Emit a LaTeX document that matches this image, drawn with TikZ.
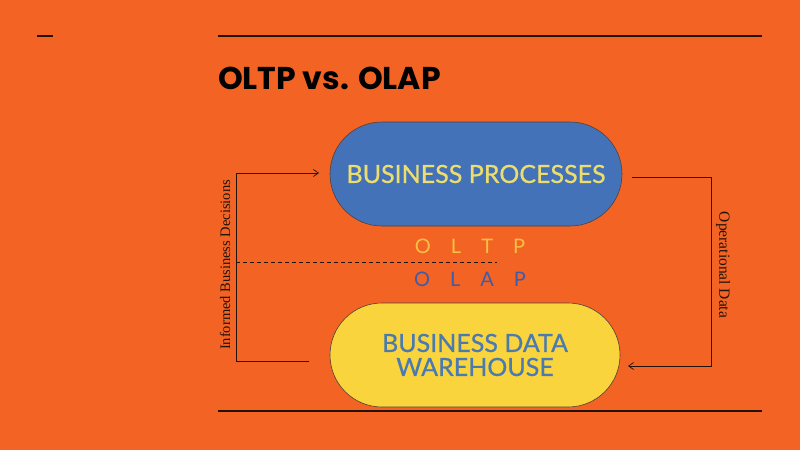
\documentclass[tikz,border=0pt]{standalone}
\usepackage{fontspec}
\setmainfont{Liberation Serif}
\newfontfamily\titlefont{Poppins}
\newfontfamily\boxfont{Lato}
\newfontfamily\boxmedium{Lato}[FakeBold=0.7]
\usetikzlibrary{arrows.meta, positioning, calc}

\definecolor{slidebg}{RGB}{242,99,36}
\definecolor{procblue}{RGB}{68,114,184}
\definecolor{whyellow}{RGB}{250,212,60}
\definecolor{proctext}{RGB}{236,222,110}
\definecolor{whtext}{RGB}{74,122,176}
\definecolor{oltpcol}{RGB}{246,192,66}
\definecolor{olapcol}{RGB}{62,92,170}
\definecolor{rulecol}{RGB}{35,18,10}

\begin{document}
\begin{tikzpicture}[
    x=1pt, y=-1pt,
    stadium/.style={draw=rulecol!80, line width=0.6pt, rounded corners=52pt,
                    minimum width=292pt, minimum height=104pt, align=center,
                    font=\boxmedium\fontsize{25}{28}\selectfont},
    rulebar/.style={draw=rulecol, line width=2.6pt},
    conn/.style={draw=rulecol, line width=0.7pt},
    arr/.style={conn, -{Straight Barb[length=5pt, width=7pt]}},
    side/.style={text=rulecol},
    layer/.style={font=\boxfont\fontsize{20}{22}\selectfont},
]

    %==================== BACKGROUND ====================
    \fill[slidebg] (0,0) rectangle (800,450);
    \useasboundingbox (0,0) rectangle (800,450);

    %==================== TITLE ====================
    \coordinate (dashL) at (37,36);
    \coordinate (dashR) at (53,36);
    \draw[rulebar, line width=2pt] (dashL) -- (dashR);
    \coordinate (topL) at (218,36);
    \coordinate (topR) at (762,36);
    \draw[rulebar] (topL) -- (topR);
    \node[anchor=base west, inner sep=0pt, font=\titlefont\bfseries\fontsize{31.5}{33}\selectfont,
          text=black] (title) at (218,89) {OLTP vs. OLAP};

    %==================== BOXES ====================
    \node[stadium, fill=procblue, text=proctext] (proc) at (476,174) {BUSINESS PROCESSES};
    \node[stadium, fill=whyellow, text=whtext, minimum width=290pt] (dwh) at (475,355)
        {BUSINESS DATA\\[-4pt]WAREHOUSE};

    %==================== OLTP / OLAP split ====================
    \node[layer, text=oltpcol] (oltp) at (470,246) {O\hspace{20pt}L\hspace{20pt}T\hspace{20pt}P};
    \node[layer, text=olapcol] (olap) at (470,279) {O\hspace{20pt}L\hspace{20pt}A\hspace{20pt}P};
    \coordinate (splitL) at (236,262);
    \coordinate (splitR) at (497,262);
    \draw[conn, dashed, dash pattern=on 4pt off 3pt] (splitL) -- (splitR);

    %==================== LOOP ====================
    % left: warehouse back up to processes
    \coordinate (lowL) at (309,361);
    \coordinate (upL) at (319,173);
    \draw[arr] (lowL) -- (236,361) |- (upL);
    \node[side, rotate=90, font=\fontsize{14.5}{16}\selectfont] (decis) at (225,265)
        {Informed Business Decisions};

    % right: processes down to warehouse
    \coordinate (upR) at (632,177);
    \coordinate (lowR) at (628,366);
    \draw[arr] (upR) -- (711,177) |- (lowR);
    \node[side, rotate=-90, font=\fontsize{15.5}{17}\selectfont] (opdata) at (723,265)
        {Operational Data};

    %==================== FOOTER ====================
    \coordinate (botL) at (218,411);
    \coordinate (botR) at (762,411);
    \draw[rulebar] (botL) -- (botR);

\end{tikzpicture}
\end{document}
